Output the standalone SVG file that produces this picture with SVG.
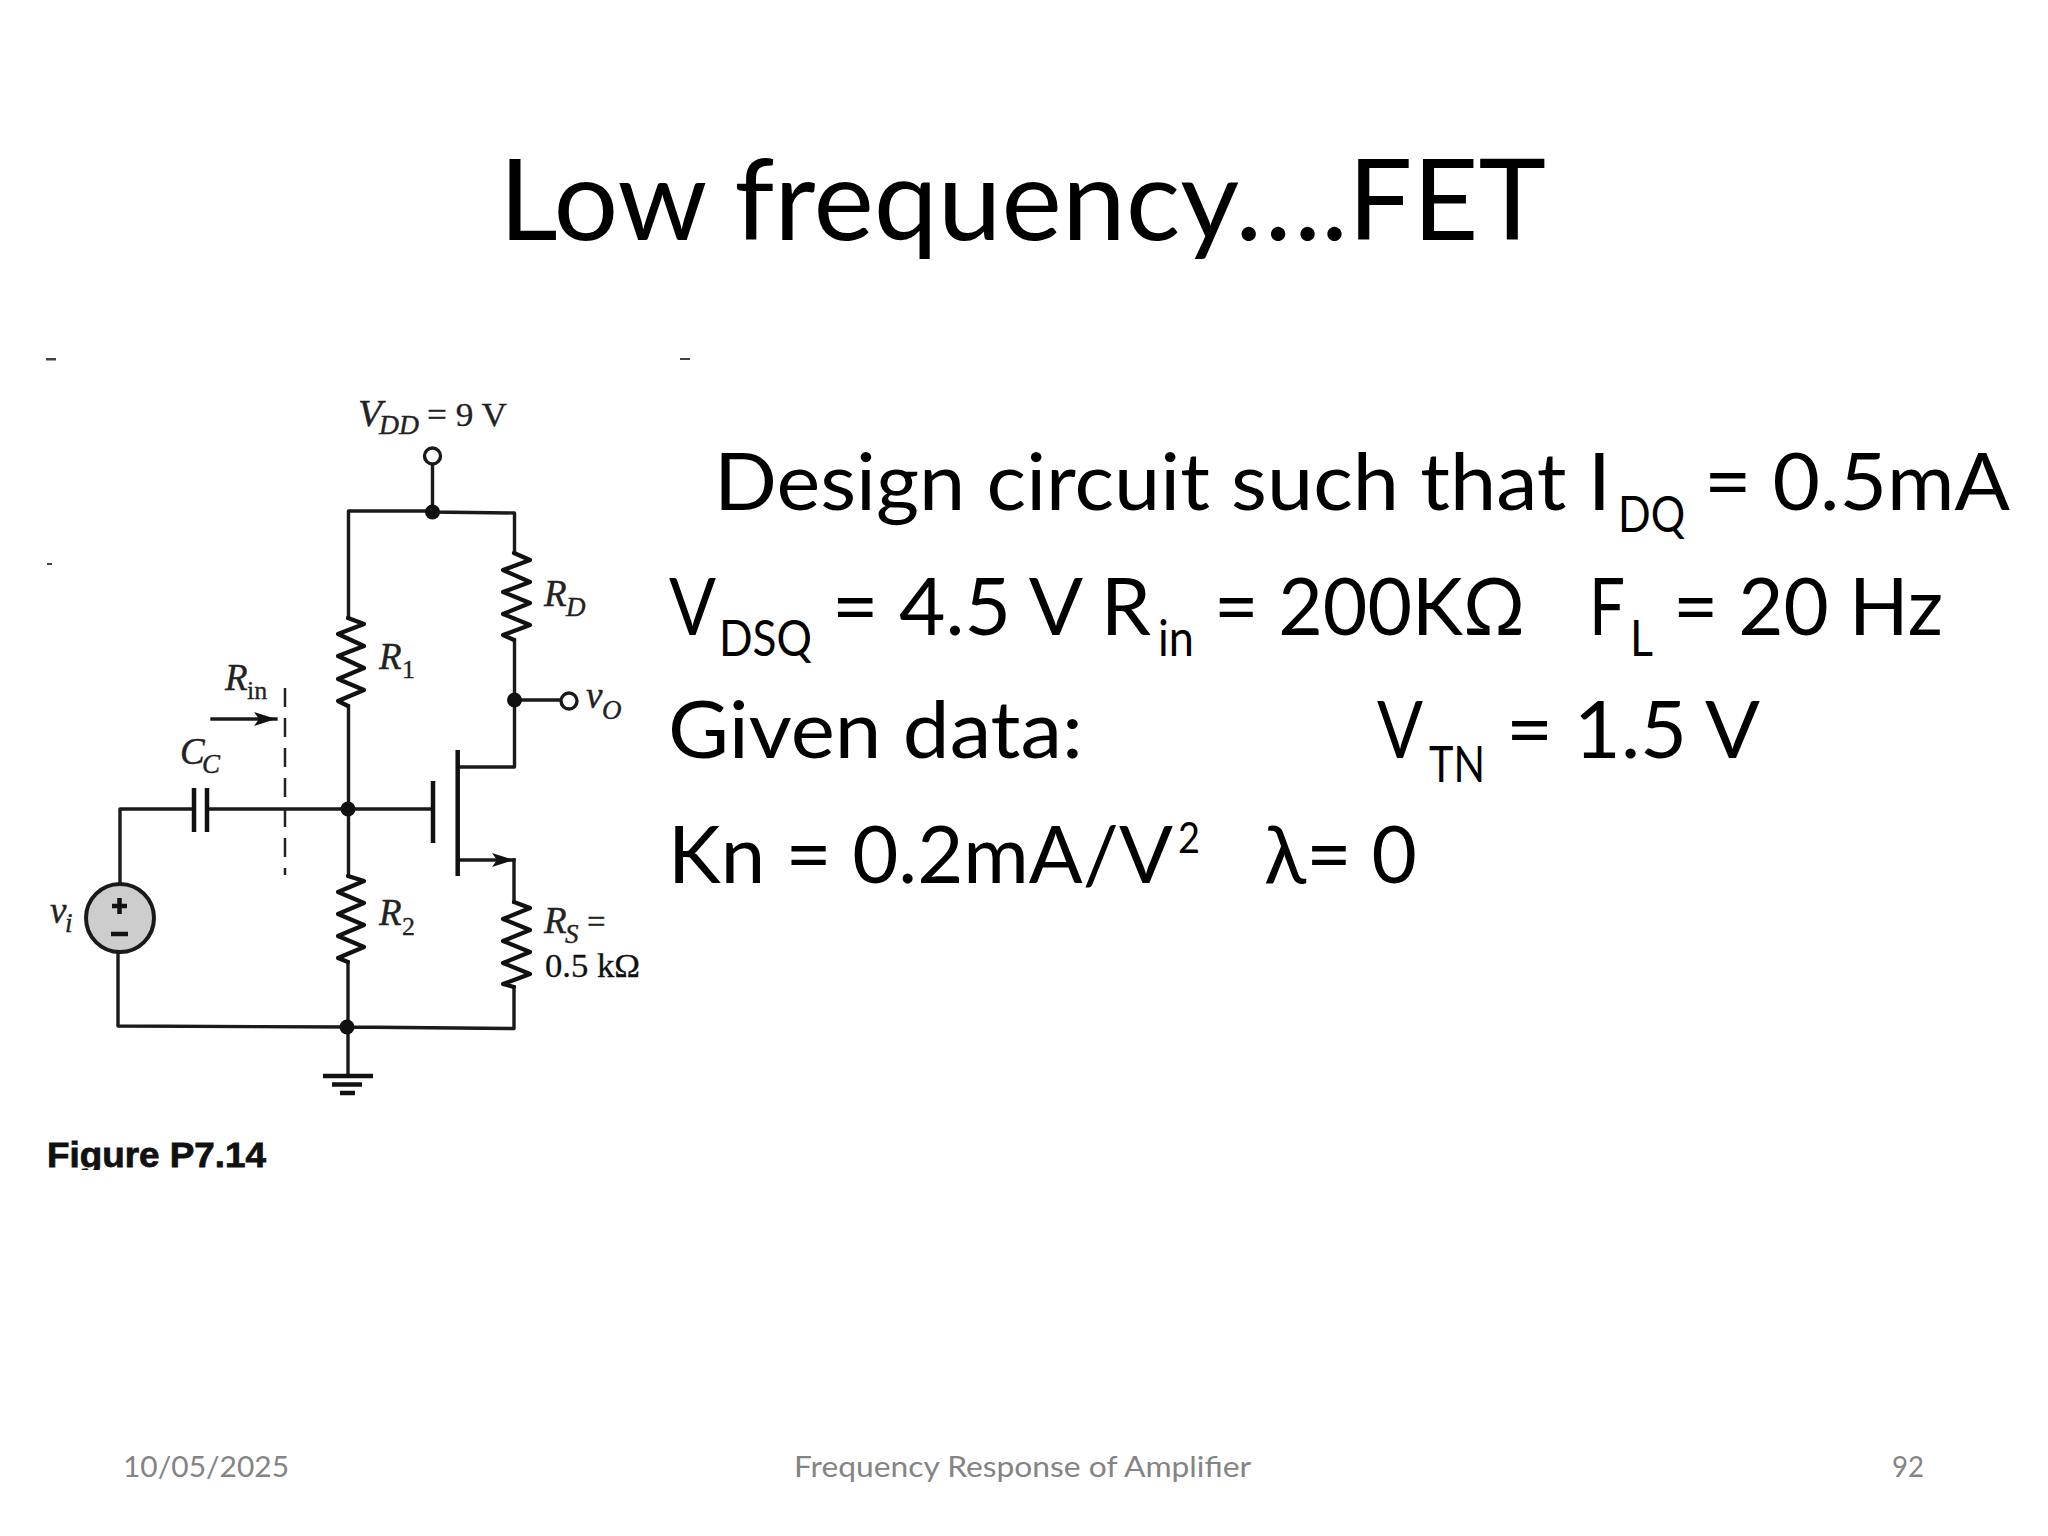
<svg xmlns="http://www.w3.org/2000/svg" width="2048" height="1536" viewBox="0 0 2048 1536">
<style>
.t{font-family:Lato,"Liberation Sans",sans-serif;fill:#000}
.title{font-size:113px}
.b{font-size:79px}
.s{font-size:51px}
.f{font-size:28px;fill:#848484}
.w{fill:none;stroke:#1a1a1a;stroke-width:3.4;stroke-linejoin:round;stroke-linecap:square}
.h{fill:none;stroke:#111;stroke-width:4.5}
.r{fill:none;stroke:#111;stroke-width:4.2;stroke-linejoin:round;stroke-linecap:round}
.o{fill:#fff;stroke:#1a1a1a;stroke-width:3.4}
.d{fill:#111}
.l{font-family:"Liberation Serif",serif;font-style:italic;font-size:37px;fill:#222;stroke:#222;stroke-width:.4}
.ls{font-family:"Liberation Serif",serif;font-style:italic;font-size:27px;fill:#222;stroke:#222;stroke-width:.4}
.n{font-family:"Liberation Serif",serif;font-size:33px;fill:#222;stroke:#222;stroke-width:.3}
.ns{font-family:"Liberation Serif",serif;font-size:26px;fill:#222;stroke:#222;stroke-width:.3}
</style>
<defs>
<marker id="ah" markerUnits="userSpaceOnUse" markerWidth="24" markerHeight="16" refX="22" refY="8" orient="auto"><path d="M0,1 L22,8 L0,15 L5,8 Z" fill="#111"/></marker>
</defs>
<rect width="2048" height="1536" fill="#fff"/>
<g id="slide-title"><text class="t title" x="499" y="240" textLength="1047" lengthAdjust="spacingAndGlyphs">Low frequency….FET</text></g>

<g id="connectors">
<path class="w" d="M432.5,464V512M348.5,618V511H432M432,512L514.5,513V553M514.5,640V767H459M514.5,700H561"/>
<path class="w" d="M348.5,706V876M348,962V1075M433,809H207M194,809H120V883M118,953V1026L348,1027L514,1028.5V987M514,902V860"/>
<path class="w" d="M459,860H514" marker-end="url(#ah)"/>
<path class="w" d="M212,719H276" marker-end="url(#ah)"/>
<path d="M285,688V875" fill="none" stroke="#222" stroke-width="2.5" stroke-dasharray="19 11"/>
</g>

<g id="vdd-terminal"><circle class="o" cx="432.5" cy="456" r="8"/><circle class="d" cx="432.5" cy="512" r="7.500"/>
<text class="l" x="358" y="426" textLength="24" lengthAdjust="spacingAndGlyphs">V</text><text class="ls" x="379" y="434" textLength="40" lengthAdjust="spacingAndGlyphs">DD</text><text class="n" x="427" y="426" textLength="80" lengthAdjust="spacingAndGlyphs">= 9 V</text></g>
<g id="r1"><polyline class="r" points="348,618 364,624 338,634 364,646 338,656 364,668 338,679 364,690 338,701 348,706"/>
<text class="l" x="379" y="669">R</text><text class="ns" x="402" y="678">1</text></g>
<g id="rd"><polyline class="r" points="514,553 530,560 503,570 530,582 503,592 530,603 503,614 530,625 503,635 514,640"/>
<text class="l" x="544" y="606">R</text><text class="ls" x="566" y="616">D</text></g>
<g id="vo-terminal"><circle class="d" cx="514.5" cy="700" r="7.500"/><circle class="o" cx="569" cy="701" r="8"/>
<text class="l" x="586" y="708">v</text><text class="ls" x="602" y="719">O</text></g>
<g id="mosfet"><path class="h" d="M433,781V843M457.7,750V876"/></g>
<g id="rin-label"><text class="l" x="225" y="690">R</text><text class="ns" x="247" y="699">in</text></g>
<g id="cc"><path class="h" d="M194,788V832M207,788V832"/>
<text class="l" x="180" y="764">C</text><text class="ls" x="202" y="773">C</text></g>
<g id="junction-gate"><circle class="d" cx="348" cy="809" r="7.500"/></g>
<g id="source-vi"><circle cx="120" cy="918" r="34" fill="#cdcdcd" stroke="#1a1a1a" stroke-width="4"/>
<path d="M112,906H127M119.500,898V914M111,934H128" fill="none" stroke="#111" stroke-width="4.500"/>
<text class="l" x="50" y="923">v</text><text class="ls" x="65" y="932">i</text></g>
<g id="r2"><polyline class="r" points="348,876 364,881 338,892 364,903 338,914 364,925 338,936 364,947 338,958 348,962"/>
<text class="l" x="379" y="925">R</text><text class="ns" x="402" y="935">2</text></g>
<g id="rs"><polyline class="r" points="514,902 530,908 503,919 530,930 503,941 530,952 503,963 530,974 503,984 514,987"/>
<text class="l" x="544" y="933">R</text><text class="ls" x="565" y="943">S</text><text class="n" x="587" y="933">=</text>
<text x="545" y="977" textLength="95" lengthAdjust="spacingAndGlyphs" font-family="Liberation Serif, serif" font-size="33" fill="#111" stroke="#111" stroke-width=".3">0.5 kΩ</text></g>
<g id="ground"><circle class="d" cx="347" cy="1027" r="7.500"/><path class="h" d="M323,1076H373M332,1084.500H362M340,1093H355"/></g>
<g id="figure-caption"><text x="47" y="1167" textLength="219" lengthAdjust="spacingAndGlyphs" font-family="Liberation Sans, sans-serif" font-weight="700" font-size="35" fill="#111" stroke="#111" stroke-width=".8">Figure P7.14</text><rect x="40" y="1170" width="240" height="10" fill="#fff"/></g>
<g id="specks" fill="#444"><rect x="46" y="358" width="10" height="2.500"/><rect x="680" y="358" width="10" height="2"/><rect x="47" y="563" width="5" height="2"/></g>

<g id="body">
<text class="t b" id="line1"><tspan x="714" y="510" textLength="897" lengthAdjust="spacingAndGlyphs">Design circuit such that I</tspan><tspan class="s" x="1618" y="532" textLength="67" lengthAdjust="spacingAndGlyphs">DQ</tspan><tspan x="1704" y="510" textLength="306" lengthAdjust="spacingAndGlyphs">= 0.5mA</tspan></text>
<text class="t b" id="line2"><tspan x="669" y="635" textLength="47" lengthAdjust="spacingAndGlyphs">V</tspan><tspan class="s" x="719" y="656" textLength="93" lengthAdjust="spacingAndGlyphs">DSQ</tspan><tspan x="832" y="635" textLength="319" lengthAdjust="spacingAndGlyphs">= 4.5 V R</tspan><tspan class="s" x="1158" y="656" textLength="36" lengthAdjust="spacingAndGlyphs">in</tspan><tspan x="1214" y="635" textLength="311" lengthAdjust="spacingAndGlyphs">= 200KΩ</tspan><tspan x="1589" y="635" textLength="36" lengthAdjust="spacingAndGlyphs">F</tspan><tspan class="s" x="1630" y="656" textLength="23" lengthAdjust="spacingAndGlyphs">L</tspan><tspan x="1673" y="635" textLength="270" lengthAdjust="spacingAndGlyphs">= 20 Hz</tspan></text>
<text class="t b" id="line3"><tspan x="668" y="758" textLength="415" lengthAdjust="spacingAndGlyphs">Given data:</tspan><tspan x="1377" y="758" textLength="46" lengthAdjust="spacingAndGlyphs">V</tspan><tspan class="s" x="1429" y="782" textLength="56" lengthAdjust="spacingAndGlyphs">TN</tspan><tspan x="1506" y="758" textLength="254" lengthAdjust="spacingAndGlyphs">= 1.5 V</tspan></text>
<text class="t b" id="line4"><tspan x="668" y="883" textLength="505" lengthAdjust="spacingAndGlyphs">Kn = 0.2mA/V</tspan><tspan style="font-size:42px" x="1178" y="853" textLength="22" lengthAdjust="spacingAndGlyphs">2</tspan><tspan x="1264" y="883" textLength="153" lengthAdjust="spacingAndGlyphs">λ= 0</tspan></text>
</g>
<g id="footer">
<text class="t f" x="123" y="1477" textLength="166" lengthAdjust="spacingAndGlyphs">10/05/2025</text>
<text class="t f" x="794" y="1477" textLength="457" lengthAdjust="spacingAndGlyphs">Frequency Response of Amplifier</text>
<text class="t f" x="1892" y="1477" textLength="32" lengthAdjust="spacingAndGlyphs">92</text>
</g>
</svg>
